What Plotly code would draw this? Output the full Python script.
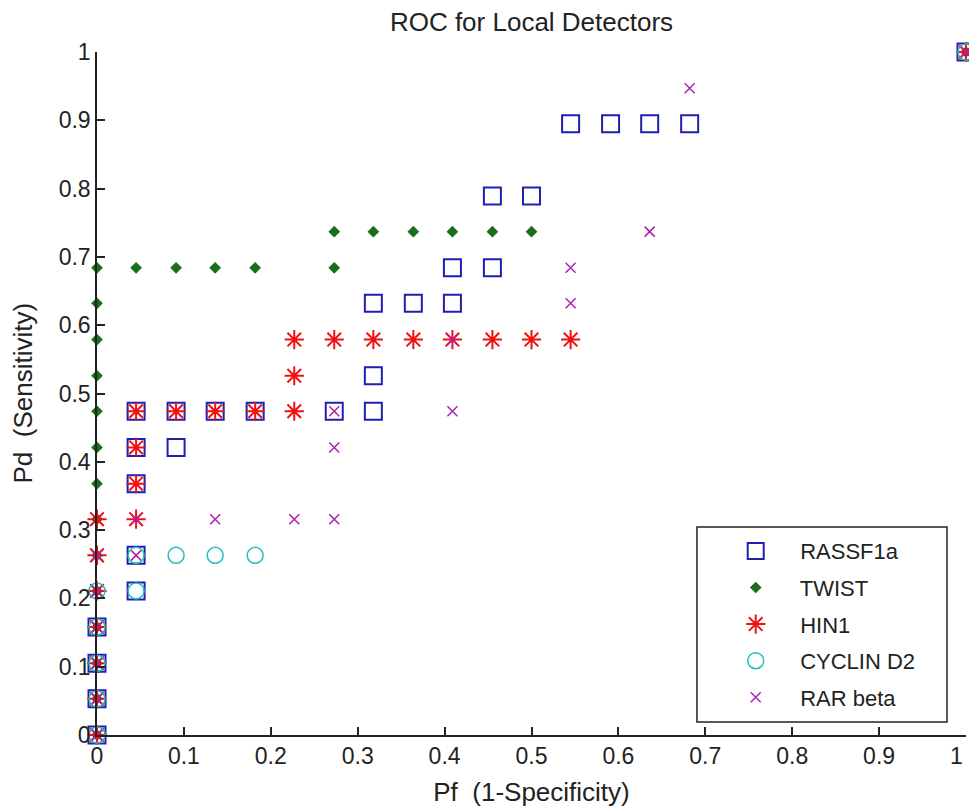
import plotly.graph_objects as go

# ---- data ----
rassf1a_x = [0, 0, 0, 0, 0.045, 0.045, 0.045, 0.045, 0.045, 0.091, 0.091, 0.136, 0.182, 0.273,
             0.318, 0.318, 0.318, 0.364, 0.409, 0.409, 0.455, 0.455, 0.5, 0.545, 0.591, 0.636, 0.682, 1]
rassf1a_y = [0, 0.053, 0.105, 0.158, 0.211, 0.263, 0.368, 0.421, 0.474, 0.421, 0.474, 0.474, 0.474, 0.474,
             0.474, 0.526, 0.632, 0.632, 0.632, 0.684, 0.684, 0.789, 0.789, 0.895, 0.895, 0.895, 0.895, 1]

twist_x = [0, 0, 0, 0, 0, 0, 0, 0, 0, 0, 0, 0, 0, 0,
           0.045, 0.091, 0.136, 0.182, 0.273,
           0.273, 0.318, 0.364, 0.409, 0.455, 0.5, 1]
twist_y = [0, 0.053, 0.105, 0.158, 0.211, 0.263, 0.316, 0.368, 0.421, 0.474, 0.526, 0.579, 0.632, 0.684,
           0.684, 0.684, 0.684, 0.684, 0.684,
           0.737, 0.737, 0.737, 0.737, 0.737, 0.737, 1]

hin1_x = [0, 0, 0, 0, 0, 0, 0, 0.045, 0.045, 0.045, 0.045, 0.091, 0.136, 0.182,
          0.227, 0.227, 0.227, 0.273, 0.318, 0.364, 0.409, 0.455, 0.5, 0.545, 1]
hin1_y = [0, 0.053, 0.105, 0.158, 0.211, 0.263, 0.316, 0.316, 0.368, 0.421, 0.474, 0.474, 0.474, 0.474,
          0.474, 0.526, 0.579, 0.579, 0.579, 0.579, 0.579, 0.579, 0.579, 0.579, 1]

cyclin_x = [0, 0, 0, 0, 0, 0.045, 0.045, 0.091, 0.136, 0.182, 1]
cyclin_y = [0, 0.053, 0.105, 0.158, 0.211, 0.211, 0.263, 0.263, 0.263, 0.263, 1]

rar_x = [0, 0, 0, 0, 0, 0, 0.045, 0.045, 0.136, 0.227, 0.273, 0.273, 0.273, 0.409, 0.409,
         0.545, 0.545, 0.636, 0.682, 1]
rar_y = [0, 0.053, 0.105, 0.158, 0.211, 0.263, 0.263, 0.316, 0.316, 0.316, 0.316, 0.421, 0.474, 0.474, 0.579,
         0.632, 0.684, 0.737, 0.947, 1]

series_names = ["RASSF1a", "TWIST", "HIN1", "CYCLIN D2", "RAR beta"]
tick_vals = [0, 0.1, 0.2, 0.3, 0.4, 0.5, 0.6, 0.7, 0.8, 0.9, 1]
tick_text = ["0", "0.1", "0.2", "0.3", "0.4", "0.5", "0.6", "0.7", "0.8", "0.9", "1"]

FONT = "Liberation Sans, Arial, sans-serif"

fig = go.Figure()
styles = [
    dict(symbol="square-open", size=17, color="#1f1fb4", line=dict(width=2, color="#1f1fb4")),
    dict(symbol="diamond", size=9, color="#1b6e1b", line=dict(width=0)),
    dict(symbol="asterisk-open", size=16, color="#f01010", line=dict(width=2, color="#f01010")),
    dict(symbol="circle-open", size=16, color="#1fbfbf", line=dict(width=1.5, color="#1fbfbf")),
    dict(symbol="x-thin-open", size=10, color="#b020b0", line=dict(width=1.5, color="#b020b0")),
]
data = [(rassf1a_x, rassf1a_y), (twist_x, twist_y), (hin1_x, hin1_y), (cyclin_x, cyclin_y), (rar_x, rar_y)]
for name, (xs, ys), st in zip(series_names, data, styles):
    fig.add_trace(go.Scatter(x=xs, y=ys, mode="markers", name="    " + name, marker=st,
                             cliponaxis=False, legendgroup=name))

axis_common = dict(range=[0, 1], tickvals=tick_vals, ticks="inside", ticklen=8,
                   tickwidth=1.5, tickcolor="#222", showline=True, linecolor="#222", linewidth=1.5,
                   showgrid=False, zeroline=False, mirror=False, ticklabeloverflow="allow",
                   tickfont=dict(family=FONT, size=23, color="#222"))

# last x label nudged left (padding) so it stays inside the page edge, as in the reference
x_tick_text = tick_text[:-1] + [tick_text[-1] + "\u00a0\u00a0\u00a0"]

fig.update_layout(
    width=969, height=809,
    margin=dict(l=97, r=3, t=52, b=74, autoexpand=False),
    paper_bgcolor="white", plot_bgcolor="white",
    title=dict(text="ROC for Local Detectors", x=0.5, xref="paper", y=1 - 22 / 809, yanchor="middle",
               font=dict(family=FONT, size=26, color="#222")),
    xaxis=dict(axis_common, ticktext=x_tick_text,
               title=dict(text="Pf  (1-Specificity)", standoff=14,
                          font=dict(family=FONT, size=26, color="#222"))),
    yaxis=dict(axis_common, ticktext=tick_text),
    annotations=[dict(text="Pd  (Sensitivity)", xref="paper", yref="paper", x=-0.0863, y=0.5,
                      xanchor="center", yanchor="middle", textangle=-90, showarrow=False,
                      font=dict(family=FONT, size=26, color="#222"))],
    legend=dict(x=0.735, y=0.3, xanchor="left", yanchor="top", bgcolor="rgba(0,0,0,0)",
                borderwidth=0, tracegroupgap=5, font=dict(family=FONT, size=22, color="#222")),
    shapes=[dict(type="rect", xref="paper", yref="paper", x0=0.6904, x1=0.9781, y0=0.019, y1=0.3045,
                 line=dict(color="#222", width=1.5), fillcolor="white", layer="below")],
)

fig.write_html("out.html", config={"displayModeBar": False},
               post_script="document.body.style.margin='0';document.body.style.overflow='hidden';")
